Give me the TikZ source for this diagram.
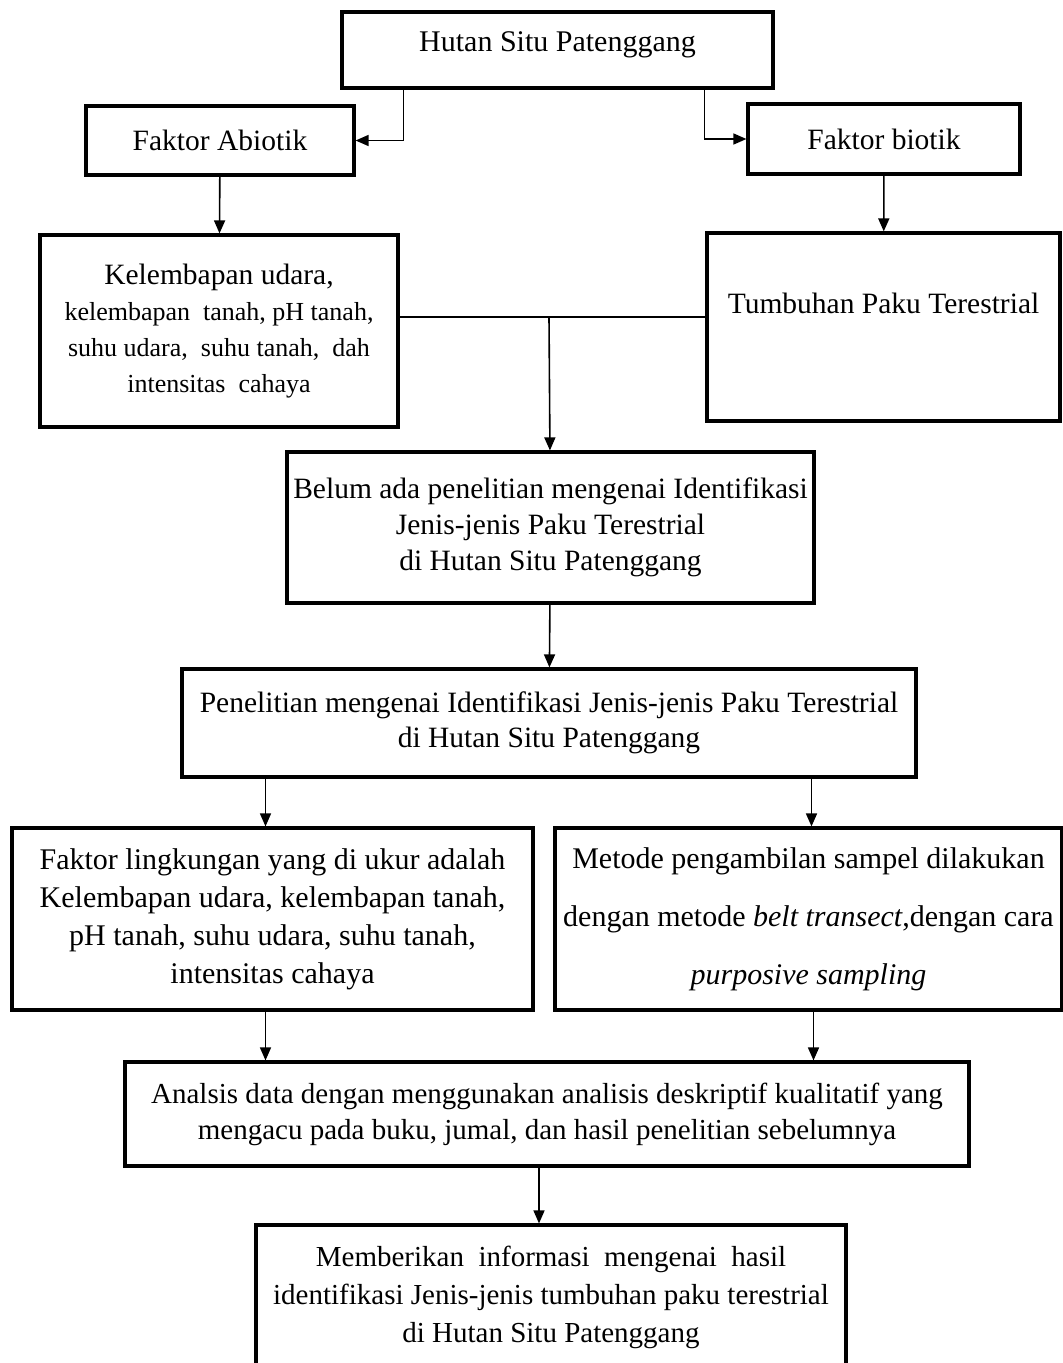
\documentclass[tikz,border=0pt]{standalone}
\usepackage{fontspec}
\setmainfont{Liberation Serif}
\usetikzlibrary{arrows.meta,positioning,calc}

\begin{document}
\begin{tikzpicture}[x=1pt, y=-1pt,
    box/.style={rectangle, draw=black, line width=3.2pt, fill=white, align=center,
        inner sep=2pt, font=\fontsize{29.5}{37}\selectfont},
    line/.style={draw, line width=1.6pt, -{Triangle[length=13pt,width=11pt]}},
    plain/.style={draw, line width=1.6pt}
]
    \useasboundingbox (0,0) rectangle (1063,1363);

    \node[box, minimum width=431pt, minimum height=76pt, font=\fontsize{30}{37}\selectfont] (hutan) at (557.5,50) {Hutan Situ Patenggang\\[-21pt]\mbox{}};
    \node[box, minimum width=268pt, minimum height=69pt] (abiotik) at (220,140.5) {Faktor Abiotik};
    \node[box, minimum width=272pt, minimum height=70pt] (biotik) at (884,139) {Faktor biotik};

    \node[box, minimum width=358pt, minimum height=192pt, font=\fontsize{26}{36}\selectfont] (kelembapan) at (219,331) {{\fontsize{29.5}{36}\selectfont Kelembapan udara,}\\
        kelembapan \ tanah, pH tanah,\\
        suhu udara, \ suhu tanah, \ dah\\
        intensitas \ cahaya};
    \node[box, minimum width=353pt, minimum height=188pt] (tumbuhan) at (883.5,327) {Tumbuhan Paku Terestrial\\[11pt]\mbox{}};
    \coordinate (gabung) at (549,317);

    \node[box, minimum width=527pt, minimum height=151pt, font=\fontsize{29.5}{36}\selectfont] (belum) at (550.5,527.5) {Belum ada penelitian mengenai Identifikasi\\
        Jenis-jenis Paku Terestrial\\
        di Hutan Situ Patenggang};
    \node[box, minimum width=734pt, minimum height=108pt, font=\fontsize{29.5}{35}\selectfont] (penelitian) at (549,723) {Penelitian mengenai Identifikasi Jenis-jenis Paku Terestrial\\
        di Hutan Situ Patenggang};

    \node[box, minimum width=521pt, minimum height=182pt, font=\fontsize{30}{38}\selectfont] (lingkungan) at (272.5,919) {Faktor lingkungan yang di ukur adalah\\
        Kelembapan udara, kelembapan tanah,\\
        pH tanah, suhu udara, suhu tanah,\\
        intensitas cahaya};
    \node[box, minimum width=507pt, minimum height=182pt, font=\fontsize{30}{37}\selectfont] (metode) at (808.5,919) {Metode pengambilan sampel dilakukan\\[21pt]
        dengan metode \textit{belt transect},dengan cara\\[21pt]
        \textit{purposive sampling}};

    \node[box, minimum width=844pt, minimum height=104pt, font=\fontsize{29}{36}\selectfont] (analisis) at (547,1114) {Analsis data dengan menggunakan analisis deskriptif kualitatif yang\\
        mengacu pada buku, jumal, dan hasil penelitian sebelumnya};
    \node[box, minimum width=590pt, minimum height=150pt, font=\fontsize{29}{38}\selectfont] (memberikan) at (551,1300) {Memberikan \ informasi \ mengenai \ hasil\\
        identifikasi Jenis-jenis tumbuhan paku terestrial\\
        di Hutan Situ Patenggang\\[-27pt]\mbox{}};

    \path[line] ([xshift=63pt]hutan.south west) |- (abiotik.east);
    \path[line] ([xshift=-70pt]hutan.south east) |- (biotik.west);
    \path[line] (abiotik) -- (kelembapan);
    \path[line] (biotik) -- (tumbuhan);
    \path[plain] (gabung -| kelembapan.east) -- (gabung -| tumbuhan.west);
    \path[line] (gabung) -- (belum);
    \path[line] (belum) -- (penelitian);
    \path[line] ([xshift=-7pt]lingkungan.north |- penelitian.south) -- ([xshift=-7pt]lingkungan.north);
    \path[line] ([xshift=3pt]metode.north |- penelitian.south) -- ([xshift=3pt]metode.north);
    \path[line] ([xshift=-7pt]lingkungan.south) -- ([xshift=-7pt]lingkungan.south |- analisis.north);
    \path[line] ([xshift=5pt]metode.south) -- ([xshift=5pt]metode.south |- analisis.north);
    \path[line] ([xshift=-8pt]analisis.south) -- ([xshift=-8pt]analisis.south |- memberikan.north);
\end{tikzpicture}
\end{document}
